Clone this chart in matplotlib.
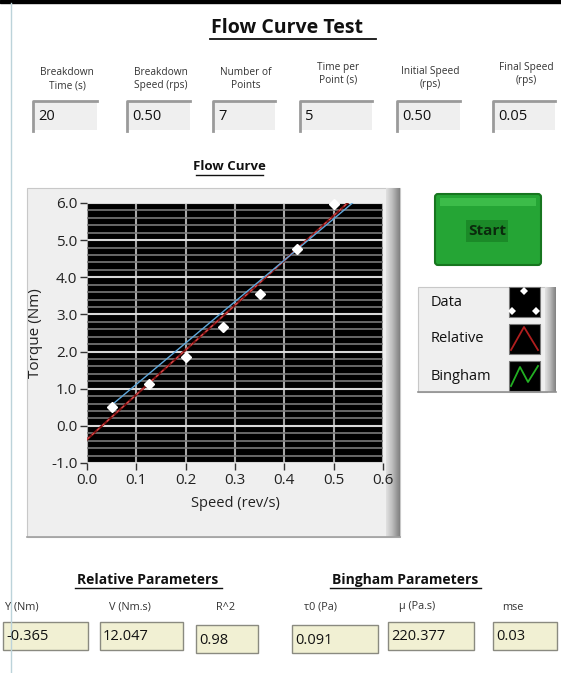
import numpy as np
import matplotlib.pyplot as plt
from matplotlib.patches import Rectangle, FancyBboxPatch, Polygon

plt.rcParams['font.family'] = ['Open Sans', 'DejaVu Sans']

# Datos del ensayo
speed = [0.05, 0.125, 0.2, 0.275, 0.35, 0.425, 0.5]
torque = [0.51, 1.14, 1.86, 2.67, 3.56, 4.76, 5.96]

# Rectas de ajuste (extremos)
rel_x = [0.0, 0.53]
rel_y = [-0.365, 6.02]
bing_x = [0.05, 0.54]
bing_y = [0.56, 6.02]

# Controles de entrada
in_labels = ["Breakdown\nTime (s)", "Breakdown\nSpeed (rps)", "Number of\nPoints",
             "Time per\nPoint (s)", "Initial Speed\n(rps)", "Final Speed\n(rps)"]
in_values = ["20", "0.50", "7", "5", "0.50", "0.05"]

# Indicadores de salida
out_labels = ["Y (Nm)", "V (Nm.s)", "R^2", "τ0 (Pa)", "µ (Pa.s)", "mse"]
out_values = ["-0.365", "12.047", "0.98", "0.091", "220.377", "0.03"]

legend_names = ["Data", "Relative", "Bingham"]

W, H = 561, 673
fig = plt.figure(figsize=(W / 100, H / 100), dpi=100)
fig.patch.set_facecolor('white')

# Eje de fondo en pixeles
bg = fig.add_axes([0, 0, 1, 1], zorder=0)
bg.set_xlim(0, W)
bg.set_ylim(H, 0)
bg.axis('off')

bg.add_patch(Rectangle((0, 0), W, 3, color='black'))
bg.plot([11, 11], [3, H], color='#bcd3da', lw=1)

# Titulo
bg.text(290, 28, "Flow Curve Test ", ha='center', va='center', fontsize=14,
        fontweight='bold', color='#111111')
bg.plot([210, 376], [39, 39], color='#111111', lw=1.3)

# Controles superiores
in_x = [(33, 97), (127, 190), (213, 275), (300, 372), (397, 460), (493, 555)]
in_ly = [79, 79, 79, 74, 78, 74]
for (x0, x1), lab, val, ly in zip(in_x, in_labels, in_values, in_ly):
    bg.text((x0 + x1) / 2 + 2, ly, lab, ha='center', va='center', fontsize=7.3,
            color='#333333', linespacing=1.25)
    bg.add_patch(Rectangle((x0, 101), x1 - x0, 29, facecolor='#efefef',
                           edgecolor='none'))
    bg.plot([x0, x0, x1], [131, 101, 101], color='#9a9a9a', lw=2)
    bg.text(x0 + 5, 117, val, ha='left', va='center', fontsize=10.5,
            color='#111111')

# Panel del grafico
bg.add_patch(Rectangle((27, 188), 373, 349, facecolor='#efefef',
                       edgecolor='#c8c8c8', lw=0.8))
grad = np.linspace(0, 1, 30).reshape(1, -1)
bg.imshow(grad, extent=[386, 400, 537, 188], cmap='Greys', vmin=-0.6, vmax=2.2,
          aspect='auto', zorder=2)
bg.plot([27, 400], [537, 537], color='#a0a0a0', lw=1.2)
bg.text(229, 167, "Flow Curve", ha='center', va='center', fontsize=9.5,
        fontweight='bold', color='#111111')
bg.plot([196, 263], [175, 175], color='#111111', lw=1)

# Boton Start
bg.add_patch(FancyBboxPatch((435, 194), 106, 71, boxstyle='round,pad=0,rounding_size=3',
                            facecolor='#25a535', edgecolor='#17761f', lw=1.5))
bg.add_patch(Rectangle((440, 198), 96, 8, facecolor='#3cbc49', edgecolor='none'))
bg.add_patch(Rectangle((466, 220), 42, 22, facecolor='#1b8a28', edgecolor='none'))
bg.text(487, 231, "Start", ha='center', va='center', fontsize=11,
        fontweight='bold', color='#0b2a0d')

# Leyenda
bg.add_patch(Rectangle((418, 287), 129, 105, facecolor='#efefef',
                       edgecolor='#c8c8c8', lw=0.8))
bg.imshow(grad, extent=[545, 556, 392, 287], cmap='Greys', vmin=-0.6, vmax=2.2,
          aspect='auto', zorder=2)
bg.plot([418, 556], [392, 392], color='#909090', lw=1.2)
sw_y = [302, 339, 376]
for name, sy in zip(legend_names, sw_y):
    bg.text(431, sy, name, ha='left', va='center', fontsize=10.5, color='#111111')
    bg.add_patch(Rectangle((509, sy - 15), 31, 30, facecolor='black',
                           edgecolor='#777777', lw=0.8))
# Muestra Data
for cx, cy in [(524, 291), (512, 311), (536, 311)]:
    bg.add_patch(Polygon([(cx - 4, cy), (cx, cy - 4), (cx + 4, cy), (cx, cy + 4)],
                         closed=True, facecolor='white', edgecolor='none'))
bg.plot([511, 524, 538], [350, 327, 350], color='#b01e1e', lw=1.3)
bg.plot([511, 520, 528, 538], [386, 367, 382, 366], color='#22b022', lw=1.3)

# Parametros inferiores
bg.text(148, 580, "Relative Parameters", ha='center', va='center', fontsize=10,
        fontweight='bold', color='#111111')
bg.plot([75, 222], [588, 588], color='#111111', lw=1)
bg.text(405, 580, "Bingham Parameters", ha='center', va='center', fontsize=10,
        fontweight='bold', color='#111111')
bg.plot([330, 481], [588, 588], color='#111111', lw=1)

out_x = [(3, 88), (100, 183), (196, 258), (292, 378), (388, 474), (493, 557)]
out_lx = [22, 130, 226, 321, 417, 513]
out_y = [622, 622, 625, 625, 622, 622]
for (x0, x1), lx, by, lab, val in zip(out_x, out_lx, out_y, out_labels, out_values):
    bg.text(lx, 607, lab, ha='center', va='center', fontsize=7.8, color='#333333')
    bg.add_patch(Rectangle((x0, by), x1 - x0, 28, facecolor='#f1f0d3',
                           edgecolor='#8a8a80', lw=1))
    bg.text(x0 + 3, by + 15, val, ha='left', va='center', fontsize=10.5,
            color='#111111')

# Grafico principal
ax = fig.add_axes([87 / W, 1 - 463 / H, 296 / W, 260 / H], zorder=3)
ax.set_facecolor('black')
ax.set_xlim(0, 0.6)
ax.set_ylim(-1.0, 6.0)
ax.set_xticks(np.arange(0, 0.61, 0.1))
ax.set_yticks(np.arange(-1, 6.01, 1))
ax.set_yticks(np.arange(-1, 6.01, 0.2), minor=True)
ax.set_xticklabels([f"{v:.1f}" for v in np.arange(0, 0.61, 0.1)])
ax.set_yticklabels([f"{v:.1f}" for v in np.arange(-1, 6.01, 1)])
ax.grid(which='minor', axis='y', color='#7a7a7a', lw=1.2)
ax.grid(which='major', axis='y', color='#d8d8d8', lw=1.5)
ax.grid(which='major', axis='x', color='#a8a8a8', lw=1.5)
ax.tick_params(which='minor', length=0)
ax.tick_params(which='major', length=5, width=1, color='#333333',
               labelsize=11, labelcolor='#222222', pad=2)
for s in ax.spines.values():
    s.set_visible(False)
ax.set_axisbelow(True)

ax.plot(rel_x, rel_y, color='#7a1010', lw=1.6, zorder=3)
ax.plot(rel_x, rel_y, color='#e05050', lw=0.8, ls=(0, (3, 3)), zorder=3)
ax.plot(bing_x, bing_y, color='#5fa8dc', lw=1.0, zorder=4)
ax.plot(speed, torque, ls='none', marker='D', ms=5.5, color='white', zorder=5,
        clip_on=False)

ax.set_xlabel("Speed (rev/s)", fontsize=10.5, color='#222222', labelpad=6)
ax.set_ylabel("Torque (Nm)", fontsize=11, color='#222222', labelpad=6)

fig.savefig("out.png", dpi=100, facecolor='white')
